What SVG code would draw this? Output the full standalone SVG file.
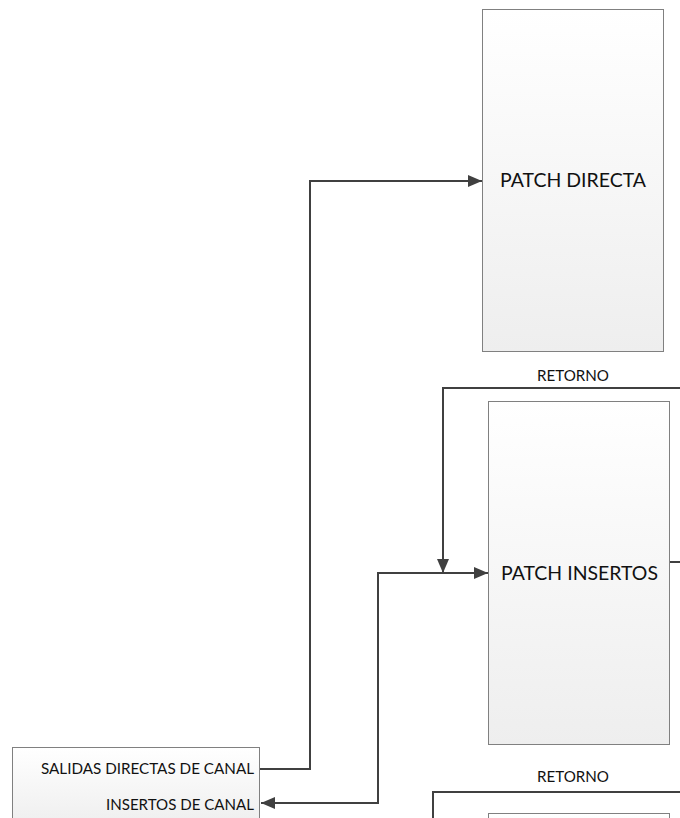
<svg xmlns="http://www.w3.org/2000/svg" width="680" height="818" viewBox="0 0 680 818">
  <defs>
    <linearGradient id="boxFill" x1="0" y1="0" x2="0" y2="1">
      <stop offset="0" stop-color="#ffffff"/>
      <stop offset="1" stop-color="#eeeeee"/>
    </linearGradient>
    <marker id="arrow" viewBox="0 0 14 12" refX="14" refY="6" markerWidth="7" markerHeight="6" orient="auto" markerUnits="strokeWidth">
      <path d="M0,0 L14,6 L0,12 z" fill="#404040"/>
    </marker>
  </defs>
  <style>
    .box { fill: url(#boxFill); stroke: #808080; stroke-width: 1; }
    .big { font-family: Lato, "Open Sans", "Liberation Sans", sans-serif; font-size: 19px; fill: #111; }
    .small { font-family: Lato, "Open Sans", "Liberation Sans", sans-serif; font-size: 15.5px; fill: #111; }
    .wire { fill: none; stroke: #404040; stroke-width: 2; }
  </style>
  <rect width="680" height="818" fill="#ffffff"/>

  <g id="patch-directa">
    <rect class="box" x="482.5" y="9.5" width="181" height="342"/>
    <text class="big" x="500" y="187" textLength="146" lengthAdjust="spacingAndGlyphs">PATCH DIRECTA</text>
  </g>

  <g id="patch-insertos">
    <rect class="box" x="488.5" y="401.5" width="181" height="343"/>
    <text class="big" x="501" y="580" textLength="157" lengthAdjust="spacingAndGlyphs">PATCH INSERTOS</text>
  </g>

  <g id="consola">
    <rect class="box" x="12.5" y="747.5" width="247" height="80"/>
    <text class="small" x="41" y="774" textLength="213" lengthAdjust="spacingAndGlyphs">SALIDAS DIRECTAS DE CANAL</text>
    <text class="small" x="106" y="810" textLength="148" lengthAdjust="spacingAndGlyphs">INSERTOS DE CANAL</text>
  </g>

  <g id="patch-siguiente">
    <rect class="box" x="488.5" y="813.5" width="181" height="40"/>
  </g>

  <g id="labels">
    <text class="small" x="537" y="381" textLength="72" lengthAdjust="spacingAndGlyphs">RETORNO</text>
    <text class="small" x="537" y="781.5" textLength="72" lengthAdjust="spacingAndGlyphs">RETORNO</text>
  </g>

  <g id="connectors">
    <path class="wire" d="M260,769 H310 V181 H482" marker-end="url(#arrow)"/>
    <path class="wire" d="M488,573 H378 V803 H261" marker-end="url(#arrow)"/>
    <path class="wire" d="M378,573 H488" marker-end="url(#arrow)"/>
    <path class="wire" d="M680,388 H443 V573" marker-end="url(#arrow)"/>
    <path class="wire" d="M670,562 H680"/>
    <path class="wire" d="M680,792 H433 V818"/>
  </g>
</svg>
